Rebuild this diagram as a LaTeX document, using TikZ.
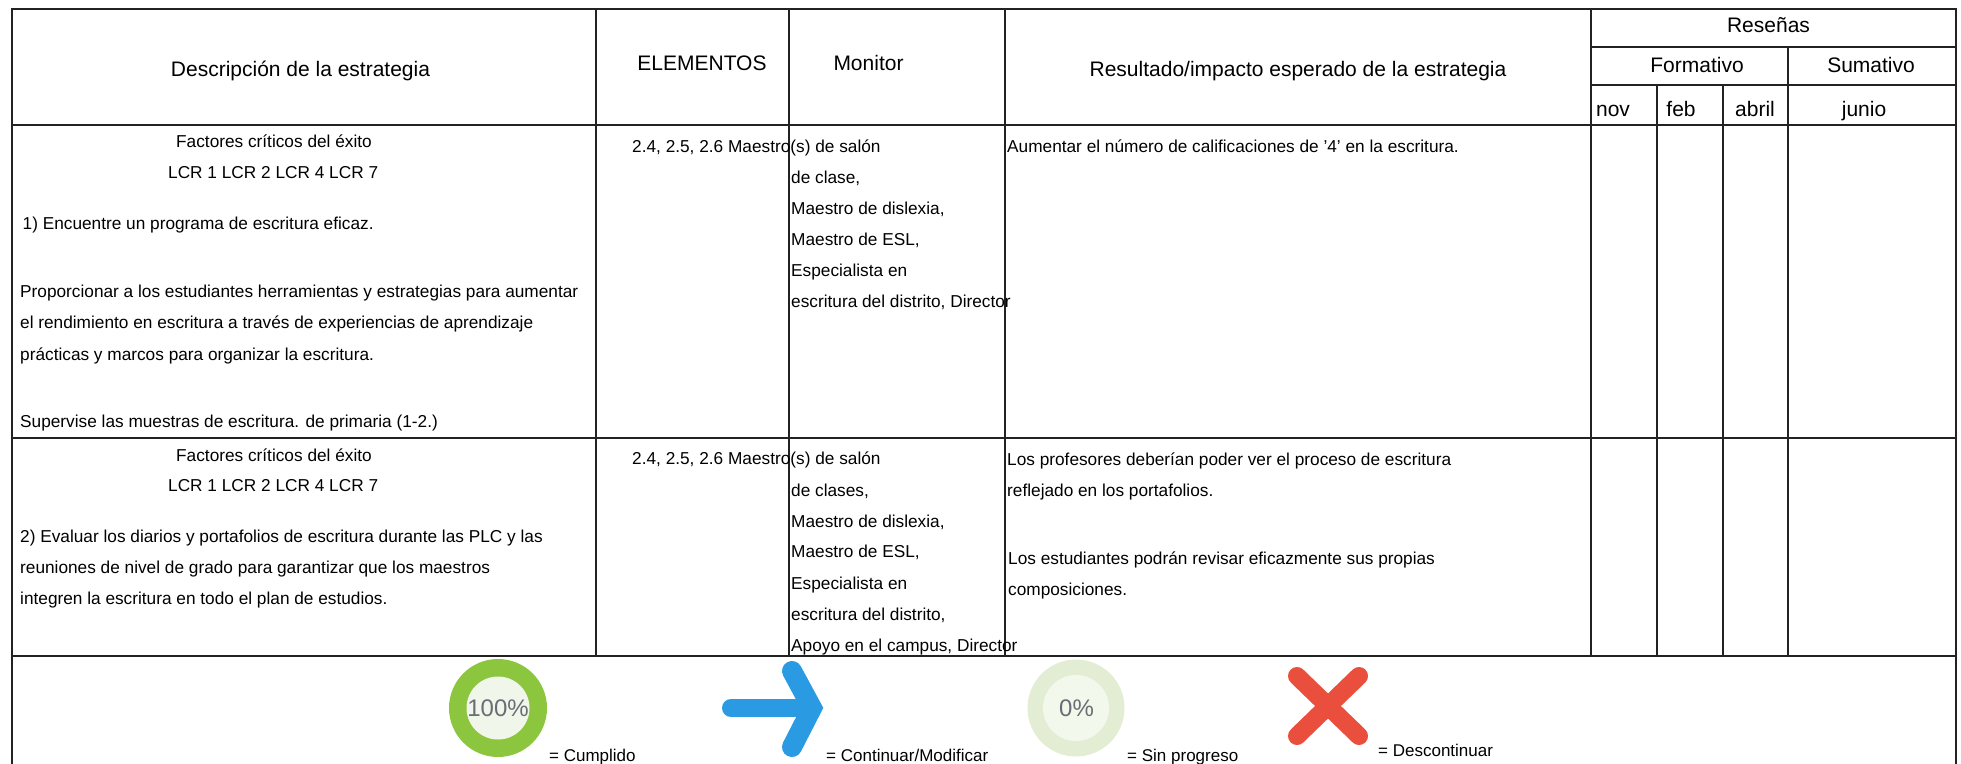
\documentclass[tikz,border=0pt]{standalone}
\usepackage{fontspec}
\setmainfont{Liberation Sans}
\definecolor{ink}{HTML}{222222}
\definecolor{ringgreen}{HTML}{8CC63E}
\definecolor{innergreen}{HTML}{F1F6EA}
\definecolor{ringpale}{HTML}{E2EDD3}
\definecolor{innerpale}{HTML}{F3F8EC}
\definecolor{arrowblue}{HTML}{2A9AE2}
\definecolor{crossred}{HTML}{EA4E3C}
\definecolor{pctgray}{HTML}{6A6E74}
\tikzset{
  gridline/.style={draw=ink,line width=2pt,line cap=rect},
  headtext/.style={anchor=base,inner sep=0pt,font=\fontsize{21}{25}\selectfont,text=black},
  bodytext/.style={anchor=base west,inner sep=0pt,font=\fontsize{17.25}{20}\selectfont,text=black},
  legendtext/.style={anchor=base west,inner sep=0pt,font=\fontsize{17}{20}\selectfont,text=black},
  pct/.style={anchor=center,inner sep=0pt,text=pctgray},
}
\begin{document}
\begin{tikzpicture}[x=1pt,y=-1pt]
\useasboundingbox (0,0) rectangle (1961,763);
% grid
\draw[gridline] (12,9) -- (1956,9);
\draw[gridline] (12,125) -- (1956,125);
\draw[gridline] (12,438) -- (1956,438);
\draw[gridline] (12,656) -- (1956,656);
\draw[gridline] (1591,47) -- (1956,47);
\draw[gridline] (1591,85) -- (1956,85);
\draw[gridline] (12,9) -- (12,763);
\draw[gridline] (1956,9) -- (1956,763);
\draw[gridline] (595.5,9) -- (595.5,656);
\draw[gridline] (789,9) -- (789,656);
\draw[gridline] (1005,9) -- (1005,656);
\draw[gridline] (1591,9) -- (1591,656);
\draw[gridline] (1787.5,47) -- (1787.5,656);
\draw[gridline] (1657,85) -- (1657,656);
\draw[gridline] (1723,85) -- (1723,656);
% header
\node[headtext] (hDesc) at (300.5,76) {Descripción de la estrategia};
\node[headtext] (hElem) at (702,70) {ELEMENTOS};
\node[headtext] (hMon) at (868.5,70) {Monitor};
\node[headtext] (hRes) at (1298,76) {Resultado/impacto esperado de la estrategia};
\node[headtext] (hRev) at (1768.5,32) {Reseñas};
\node[headtext] (hForm) at (1697,72) {Formativo};
\node[headtext] (hSum) at (1871,72) {Sumativo};
\node[headtext] (hNov) at (1613,116) {nov};
\node[headtext] (hFeb) at (1681,116) {feb};
\node[headtext] (hAbr) at (1755,116) {abril};
\node[headtext] (hJun) at (1864,116) {junio};
% row 1
\node[bodytext] (a1) at (176,147) {Factores críticos del éxito};
\node[bodytext] (a2) at (168,178) {LCR 1 LCR 2 LCR 4 LCR 7};
\node[bodytext] (a3) at (22.5,229) {1) Encuentre un programa de escritura eficaz.};
\node[bodytext] (a4) at (20,297) {Proporcionar a los estudiantes herramientas y estrategias para aumentar};
\node[bodytext] (a5) at (20,328) {el rendimiento en escritura a través de experiencias de aprendizaje};
\node[bodytext] (a6) at (20,360) {prácticas y marcos para organizar la escritura.};
\node[bodytext] (a7) at (20,427) {Supervise las muestras de escritura. de primaria (1-2.)};
\node[bodytext] (b1) at (632,152) {2.4, 2.5, 2.6 Maestro(s) de salón};
\node[bodytext] (b2) at (791,183) {de clase,};
\node[bodytext] (b3) at (791,214) {Maestro de dislexia,};
\node[bodytext] (b4) at (791,245) {Maestro de ESL,};
\node[bodytext] (b5) at (791,276) {Especialista en};
\node[bodytext] (b6) at (791,307) {escritura del distrito, Director};
\node[bodytext] (c1) at (1007,152) {Aumentar el número de calificaciones de \char39 4\char39{} en la escritura.};
% row 2
\node[bodytext] (d1) at (176,461) {Factores críticos del éxito};
\node[bodytext] (d2) at (168,491) {LCR 1 LCR 2 LCR 4 LCR 7};
\node[bodytext] (d3) at (20,542) {2) Evaluar los diarios y portafolios de escritura durante las PLC y las};
\node[bodytext] (d4) at (20,573) {reuniones de nivel de grado para garantizar que los maestros};
\node[bodytext] (d5) at (20,604) {integren la escritura en todo el plan de estudios.};
\node[bodytext] (e1) at (632,464) {2.4, 2.5, 2.6 Maestro(s) de salón};
\node[bodytext] (e2) at (791,496) {de clases,};
\node[bodytext] (e3) at (791,527) {Maestro de dislexia,};
\node[bodytext] (e4) at (791,557) {Maestro de ESL,};
\node[bodytext] (e5) at (791,589) {Especialista en};
\node[bodytext] (e6) at (791,620) {escritura del distrito,};
\node[bodytext] (e7) at (791,651) {Apoyo en el campus, Director};
\node[bodytext] (f1) at (1007,465) {Los profesores deberían poder ver el proceso de escritura};
\node[bodytext] (f2) at (1007,496) {reflejado en los portafolios.};
\node[bodytext] (f3) at (1008,564) {Los estudiantes podrán revisar eficazmente sus propias};
\node[bodytext] (f4) at (1008,595) {composiciones.};
% legend
\fill[ringgreen] (498,708) circle[radius=49];
\fill[innergreen] (498,708) circle[radius=31.5];
\node[pct,font=\fontsize{24}{30}\selectfont] (p100) at (498,708) {100\%};
\node[legendtext] (l1) at (549,761) {= Cumplido};
\draw[arrowblue,line width=18pt,line cap=round] (731,708) -- (810,708);
\draw[arrowblue,line width=20pt,line cap=round,line join=miter] (792,671) -- (812,708) -- (792,747);
\node[legendtext] (l2) at (826,761) {= Continuar/Modificar};
\fill[ringpale] (1076,708) circle[radius=48.5];
\fill[innerpale] (1076,708) circle[radius=33];
\node[pct,font=\fontsize{24}{30}\selectfont] (p0) at (1076.5,708) {0\%};
\node[legendtext] (l3) at (1127,761) {= Sin progreso};
\draw[crossred,line width=18pt,line cap=round] (1297,676) -- (1359,736);
\draw[crossred,line width=18pt,line cap=round] (1359,676) -- (1297,736);
\node[legendtext] (l4) at (1378,756) {= Descontinuar};
\end{tikzpicture}
\end{document}
